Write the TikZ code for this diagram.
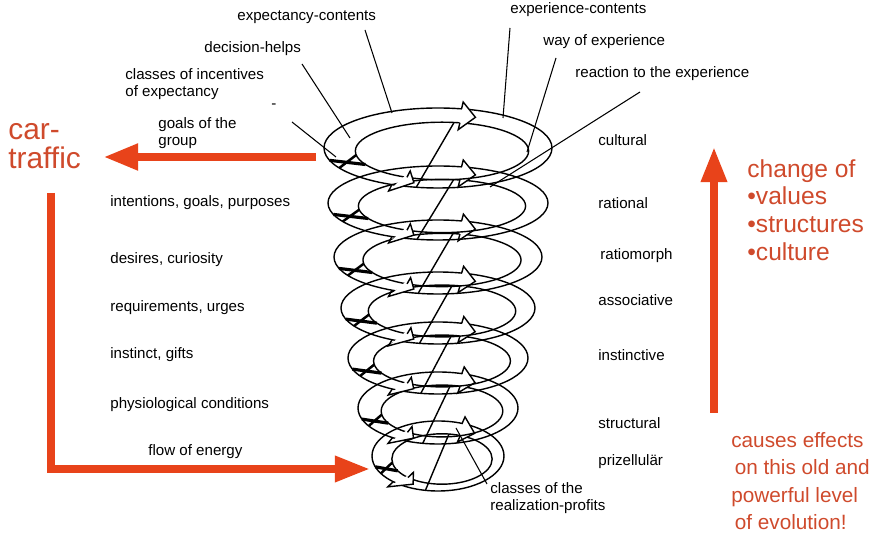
\documentclass[tikz,border=0pt]{standalone}
\usepackage{fontspec}
\setmainfont{Liberation Sans}
\usetikzlibrary{arrows.meta}
\definecolor{evored}{HTML}{E8431A}
\definecolor{evotext}{HTML}{CF4A2C}

\begin{document}
\begin{tikzpicture}[x=0.02cm, y=-0.02cm,
  lbl/.style={anchor=west, inner sep=0pt, align=left, font=\fontsize{8.6}{9.8}\selectfont},
  redtxt/.style={anchor=west, inner sep=0pt, align=left, text=evotext},
  redarrow/.style={draw=evored, line width=4.6pt, -{Triangle[length=20pt, width=14pt]}},
  ribbon/.style={draw=black, line width=0.8pt},
  leader/.style={draw=black, line width=0.6pt},
]
\useasboundingbox (0,0) rectangle (877,543);
\foreach \cy/\rx/\ry in {456/66/35, 408/80/36, 358/90/36, 308/97/36, 257/104/37, 203/110/37, 148/114/40} {
  \pgfmathsetmacro{\rxi}{0.76*\rx} \pgfmathsetmacro{\ryi}{0.72*\ry}
  \pgfmathsetmacro{\rxm}{0.88*\rx} \pgfmathsetmacro{\rym}{0.86*\ry}
  \pgfmathsetmacro{\rxo}{\rx+8} \pgfmathsetmacro{\ryo}{\ry+7}
  \pgfmathsetmacro{\rxn}{\rxi-8} \pgfmathsetmacro{\ryn}{\ryi-7}
  \pgfmathsetmacro{\dt}{1000/\rx}
  \pgfmathsetmacro{\fb}{acos(-38/\rx)+\dt/2} \pgfmathsetmacro{\ft}{\fb-\dt}
  \pgfmathsetmacro{\bb}{360-acos(32/\rx)-\dt/2} \pgfmathsetmacro{\bt}{\bb+\dt}
  \begin{scope}[shift={(438,\cy)}]
    \draw[ribbon] (0,0) ellipse[x radius=\rx, y radius=\ry];
    \draw[ribbon] (4,3) ellipse[x radius=\rxi, y radius=\ryi];
    \draw[ribbon] ({4+\rxi*cos(278)},{3+\ryi*sin(278)}) -- ({\rx*cos(101)},{\ry*sin(101)});
    \draw[line width=1.8pt] ({4+\rxi*cos(152)},{3+\ryi*sin(152)}) -- ({\rx*cos(162)},{\ry*sin(162)});
    \draw[line width=1.4pt] ({4+\rxi*cos(172)},{3+\ryi*sin(172)}) -- ({\rx*cos(150)},{\ry*sin(150)});
    \fill[white] ({\rxo*cos(\fb)},{\ryo*sin(\fb)}) -- ({2+\rxm*cos(\ft)},{1.5+\rym*sin(\ft)}) -- ({4+\rxn*cos(\fb)},{3+\ryn*sin(\fb)}) -- cycle;
    \draw[ribbon] ({\rx*cos(\fb)},{\ry*sin(\fb)}) -- ({\rxo*cos(\fb)},{\ryo*sin(\fb)}) -- ({2+\rxm*cos(\ft)},{1.5+\rym*sin(\ft)}) -- ({4+\rxn*cos(\fb)},{3+\ryn*sin(\fb)}) -- ({4+\rxi*cos(\fb)},{3+\ryi*sin(\fb)});
    \fill[white] ({\rxo*cos(\bb)},{\ryo*sin(\bb)}) -- ({2+\rxm*cos(\bt)},{1.5+\rym*sin(\bt)}) -- ({4+\rxn*cos(\bb)},{3+\ryn*sin(\bb)}) -- cycle;
    \draw[ribbon] ({\rx*cos(\bb)},{\ry*sin(\bb)}) -- ({\rxo*cos(\bb)},{\ryo*sin(\bb)}) -- ({2+\rxm*cos(\bt)},{1.5+\rym*sin(\bt)}) -- ({4+\rxn*cos(\bb)},{3+\ryn*sin(\bb)}) -- ({4+\rxi*cos(\bb)},{3+\ryi*sin(\bb)});
  \end{scope}
}
\node[lbl] (expcont) at (237,17) {expectancy-contents};
\node[lbl] (dechelp) at (204,49) {decision-helps};
\node[lbl] (incent) at (125,84) {classes of incentives\\of expectancy};
\node[lbl] (dash) at (271,106) {-};
\node[lbl] (goals) at (158,133) {goals of the\\group};
\node[lbl] (intent) at (110,203) {intentions, goals, purposes};
\node[lbl] (desire) at (110,260) {desires, curiosity};
\node[lbl] (requir) at (110,308) {requirements, urges};
\node[lbl] (instgift) at (110,355) {instinct, gifts};
\node[lbl] (physio) at (110,405) {physiological conditions};
\node[lbl] (energy) at (148,452) {flow of energy};
\node[lbl] (expercont) at (510,10) {experience-contents};
\node[lbl] (wayexp) at (543,42) {way of experience};
\node[lbl] (react) at (575,74) {reaction to the experience};
\node[lbl] (cultural) at (598,140) {cultural};
\node[lbl] (rational) at (598,203) {rational};
\node[lbl] (ratio) at (600,256) {ratiomorph};
\node[lbl] (assoc) at (598,300) {associative};
\node[lbl] (instinct) at (598,355) {instinctive};
\node[lbl] (struct) at (598,423) {structural};
\node[lbl] (prizell) at (598,462) {prizellulär};
\node[lbl] (realiz) at (490,498) {classes of the\\realization-profits};
\coordinate (ec0) at (365,30); \coordinate (ec1) at (392,113);
\coordinate (dh0) at (302,64); \coordinate (dh1) at (350,138);
\coordinate (in0) at (292,122); \coordinate (in1) at (336,157);
\coordinate (xc0) at (510,28); \coordinate (xc1) at (503,118);
\coordinate (we0) at (556,58); \coordinate (we1) at (527,152);
\coordinate (re0) at (640,92); \coordinate (re1) at (490,187);
\coordinate (rp0) at (487,484); \coordinate (rp1) at (456,428);
\draw[leader] (ec0) -- (ec1); \draw[leader] (dh0) -- (dh1); \draw[leader] (in0) -- (in1);
\draw[leader] (xc0) -- (xc1); \draw[leader] (we0) -- (we1); \draw[leader] (re0) -- (re1);
\draw[leader] (rp0) -- (rp1);
\node[redtxt, font=\fontsize{17}{16.5}\selectfont] (car) at (8,146) {car-\\traffic};
\node[redtxt, font=\fontsize{14}{15.8}\selectfont] (change) at (747,210) {change of\\•values\\•structures\\•culture};
\node[redtxt, font=\fontsize{11.8}{15.5}\selectfont] (causes) at (731,481) {causes effects\\\hspace{2pt}on this old and\\powerful level\\\hspace{2pt}of evolution!};
\coordinate (carfrom) at (316,157); \coordinate (carto) at (103,157);
\coordinate (flowtop) at (51,193); \coordinate (flowto) at (370,469);
\coordinate (upfrom) at (714,413); \coordinate (upto) at (714,147);
\draw[redarrow, line width=5pt] (carfrom) -- (carto);
\draw[redarrow, line width=4.4pt] (flowtop) |- (flowto);
\draw[redarrow, line width=4.4pt] (upfrom) -- (upto);
\end{tikzpicture}
\end{document}
